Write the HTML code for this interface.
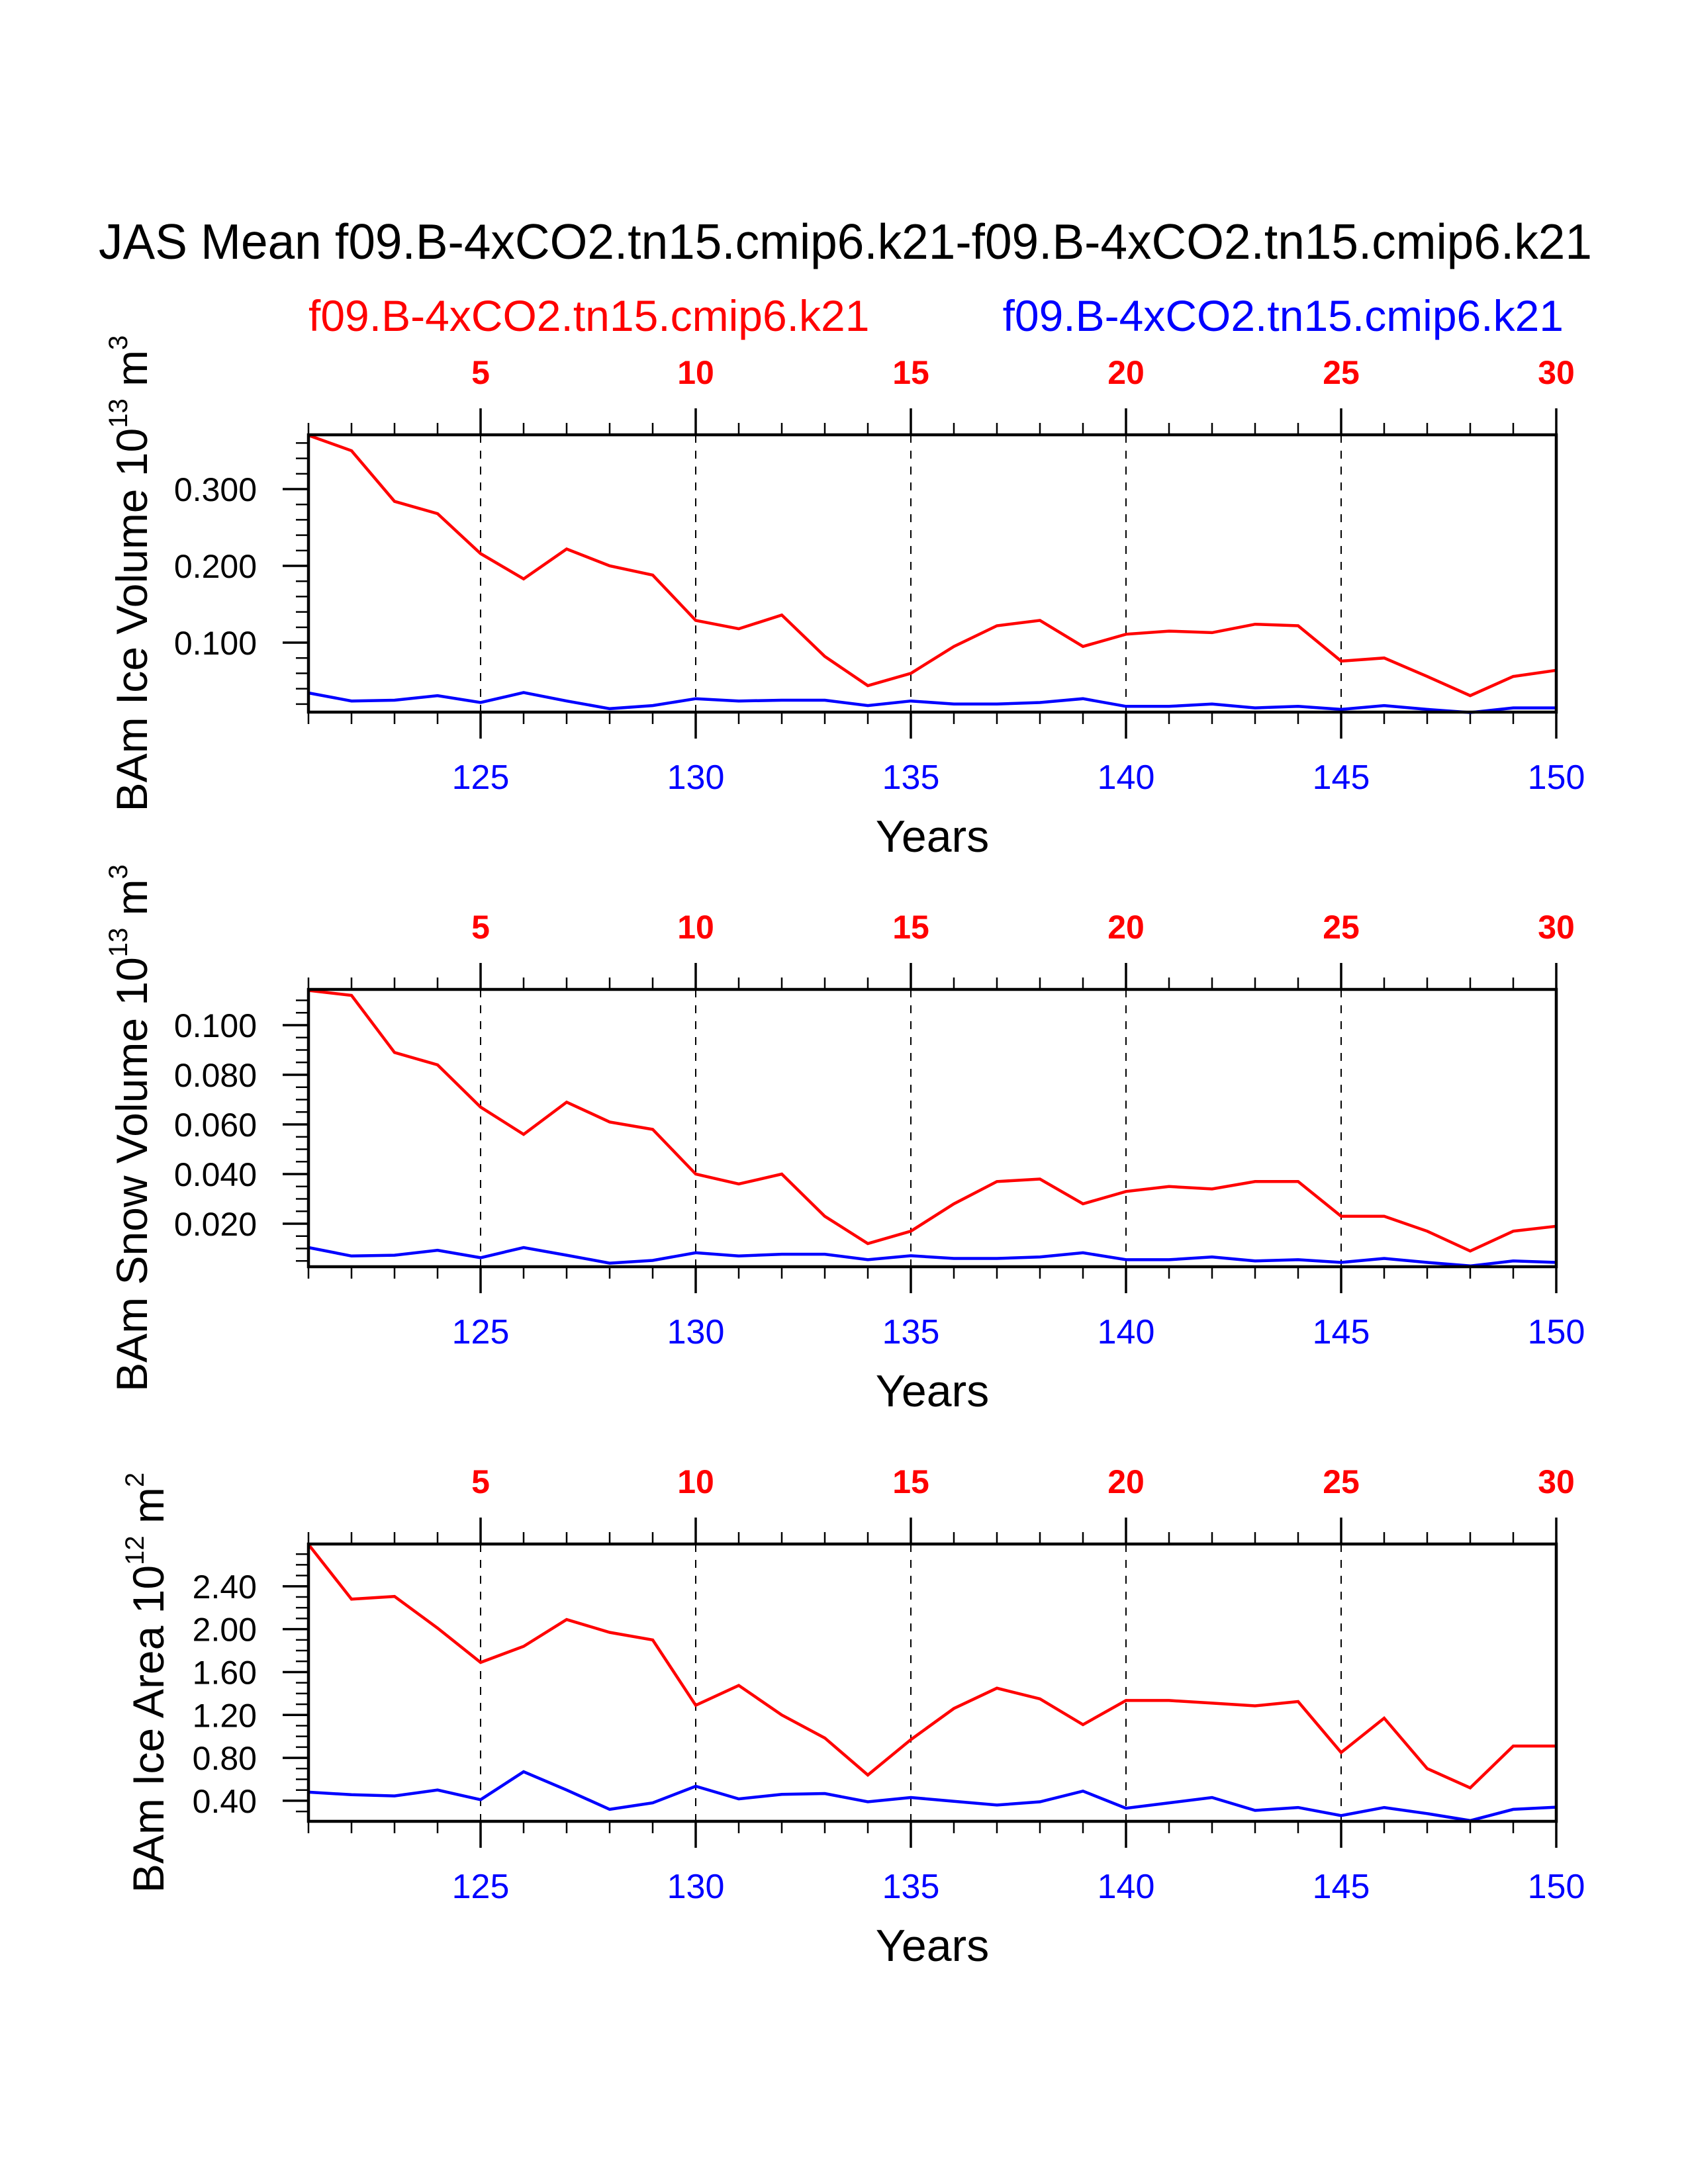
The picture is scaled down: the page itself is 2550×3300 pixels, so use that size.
<!DOCTYPE html>
<html><head><meta charset="utf-8"><style>
html,body{margin:0;padding:0;background:#fff}
svg{display:block}
text{font-family:"Liberation Sans",Arial,sans-serif}
</style></head><body>
<svg id="chart" width="2550" height="3300" viewBox="0 0 2550 3300" xmlns="http://www.w3.org/2000/svg">
<text x="1277" y="391" font-size="75" text-anchor="middle" textLength="2256" lengthAdjust="spacingAndGlyphs">JAS Mean f09.B-4xCO2.tn15.cmip6.k21-f09.B-4xCO2.tn15.cmip6.k21</text>
<text x="466" y="500" font-size="66" fill="#ff0000">f09.B-4xCO2.tn15.cmip6.k21</text>
<text x="2362" y="500" font-size="66" fill="#0000ff" text-anchor="end">f09.B-4xCO2.tn15.cmip6.k21</text>
</svg>
<script>
const years = [121,122,123,124,125,126,127,128,129,130,131,132,133,134,135,136,137,138,139,140,141,142,143,144,145,146,147,148,149,150];
const iceVolRed = [0.370,0.350,0.284,0.268,0.216,0.183,0.222,0.200,0.188,0.129,0.118,0.136,0.082,0.044,0.060,0.095,0.122,0.129,0.095,0.111,0.115,0.113,0.124,0.122,0.076,0.080,0.056,0.031,0.056,0.064];
const iceVolBlue = [0.0345,0.024,0.025,0.031,0.022,0.035,0.024,0.014,0.018,0.027,0.024,0.025,0.025,0.018,0.024,0.020,0.020,0.022,0.027,0.017,0.017,0.020,0.015,0.017,0.013,0.018,0.013,0.009,0.015,0.015];
const snowVolRed = [0.114,0.112,0.089,0.084,0.067,0.056,0.069,0.061,0.058,0.040,0.036,0.040,0.023,0.012,0.017,0.028,0.037,0.038,0.028,0.033,0.035,0.034,0.037,0.037,0.023,0.023,0.017,0.009,0.017,0.019];
const snowVolBlue = [0.0104,0.007,0.0073,0.0093,0.0063,0.0104,0.0073,0.0041,0.0052,0.0083,0.007,0.0077,0.0077,0.0055,0.0071,0.006,0.006,0.0066,0.0083,0.0055,0.0055,0.0066,0.005,0.0055,0.0044,0.006,0.0044,0.003,0.005,0.0044];
const iceAreaRed = [2.79,2.28,2.305,2.01,1.69,1.84,2.09,1.97,1.90,1.29,1.475,1.20,0.985,0.64,0.97,1.26,1.45,1.35,1.11,1.335,1.335,1.31,1.285,1.325,0.85,1.17,0.70,0.52,0.91,0.91];
const iceAreaBlue = [0.48,0.456,0.445,0.50,0.41,0.67,0.50,0.32,0.38,0.535,0.417,0.46,0.467,0.39,0.43,0.395,0.36,0.39,0.49,0.33,0.38,0.43,0.31,0.337,0.262,0.337,0.28,0.215,0.32,0.34];
const iceVolTicks = [0.100,0.200,0.300];
const iceVolTickLabels = ["0.100","0.200","0.300"];
const snowVolTicks = [0.020,0.040,0.060,0.080,0.100];
const snowVolTickLabels = ["0.020","0.040","0.060","0.080","0.100"];
const iceAreaTicks = [0.40,0.80,1.20,1.60,2.00,2.40];
const iceAreaTickLabels = ["0.40","0.80","1.20","1.60","2.00","2.40"];
const topTickYears = [125,130,135,140,145,150];
const topTickLabels = ["5","10","15","20","25","30"];
const bottomTickLabels = ["125","130","135","140","145","150"];

const NS = "http://www.w3.org/2000/svg";
const svg = document.getElementById('chart');
function mk(tag, attrs, parent){ const e=document.createElementNS(NS,tag); for(const k in attrs) e.setAttribute(k,attrs[k]); (parent||svg).appendChild(e); return e; }
const X0=466, X1=2351;
function xs(yr){ return X0 + (yr-121)/(150-121)*(X1-X0); }

function panel(key, top, ymin, ymax, minorStep, ticks, tickLabels, red, blue, labelMain, sup, unit, labelX){
  const bot = top+419;
  const g = mk('g',{});
  
  
  const ys = v => bot - (v-ymin)/(ymax-ymin)*(bot-top);
  topTickYears.forEach(yr=>{
    if(yr===150) return;
    const l = mk('line',{x1:xs(yr),x2:xs(yr),y1:top,y2:bot,stroke:'#000','stroke-width':2,'stroke-dasharray':'12,12'},g);
    
    
  });
  years.forEach(yr=>{
    const major = topTickYears.indexOf(yr)>=0;
    const len = major?40:18;
    mk('line',{x1:xs(yr),x2:xs(yr),y1:top,y2:top-len,stroke:'#000','stroke-width':major?3.5:2.5},g);
    mk('line',{x1:xs(yr),x2:xs(yr),y1:bot,y2:bot+len,stroke:'#000','stroke-width':major?3.5:2.5},g);
  });
  topTickYears.forEach((yr,i)=>{
    const t = mk('text',{x:xs(yr),y:top-77,'font-size':50,'font-weight':'bold',fill:'#ff0000','text-anchor':'middle'},g);
    t.textContent = topTickLabels[i];
    
    
    const b = mk('text',{x:xs(yr),y:bot+116,'font-size':52,fill:'#0000ff','text-anchor':'middle'},g);
    b.textContent = bottomTickLabels[i];
    
    
  });
  const start = Math.ceil(ymin/minorStep-1e-6);
  for(let k=start; k*minorStep<=ymax+1e-9; k++){
    const v=k*minorStep, y=ys(v);
    mk('line',{x1:X0,x2:X0-19,y1:y,y2:y,stroke:'#000','stroke-width':2.5},g);
  }
  ticks.forEach((v,i)=>{
    const y=ys(v);
    mk('line',{x1:X0,x2:X0-39,y1:y,y2:y,stroke:'#000','stroke-width':3.5},g);
    const t = mk('text',{x:388,y:y+18,'font-size':50,'text-anchor':'end'},g);
    t.textContent = tickLabels[i];
    
    
  });
  const mkLine=(vals,color,name)=>{
    const pts = vals.map((v,i)=>xs(years[i]).toFixed(1)+','+ys(v).toFixed(1)).join(' ');
    const p = mk('polyline',{points:pts,fill:'none',stroke:color,'stroke-width':4.5,'stroke-linejoin':'miter'},g);
    
    
  };
  mkLine(red,'#ff0000',key+'-red-series');
  mkLine(blue,'#0000ff',key+'-blue-series');
  const r = mk('rect',{x:X0,y:top,width:X1-X0,height:bot-top,fill:'none',stroke:'#000','stroke-width':4.5},g);
  
  
  const xt = mk('text',{x:(X0+X1)/2,y:bot+211,'font-size':68,'text-anchor':'middle'},g);
  xt.textContent='Years';
  
  
  const cy=(top+bot)/2;
  const yt = mk('text',{x:0,y:0,'font-size':66,'text-anchor':'middle',transform:'translate('+labelX+','+cy+') rotate(-90)'},g);
  
  
  const s1 = mk('tspan',{},yt); s1.textContent = labelMain+' 10';
  const s2 = mk('tspan',{'font-size':40,dy:-30},yt); s2.textContent = sup;
  const s3 = mk('tspan',{dy:30},yt); s3.textContent = ' m';
  const s4 = mk('tspan',{'font-size':40,dy:-30},yt); s4.textContent = unit;
}
panel('ice-volume',657,0.0095,0.3707,0.02,iceVolTicks,iceVolTickLabels,iceVolRed,iceVolBlue,'BAm Ice Volume','13','3',222);
panel('snow-volume',1495,0.00267,0.1144,0.005,snowVolTicks,snowVolTickLabels,snowVolRed,snowVolBlue,'BAm Snow Volume','13','3',222);
panel('ice-area',2333,0.208,2.794,0.1,iceAreaTicks,iceAreaTickLabels,iceAreaRed,iceAreaBlue,'BAm Ice Area','12','2',247);
</script>
</body></html>
